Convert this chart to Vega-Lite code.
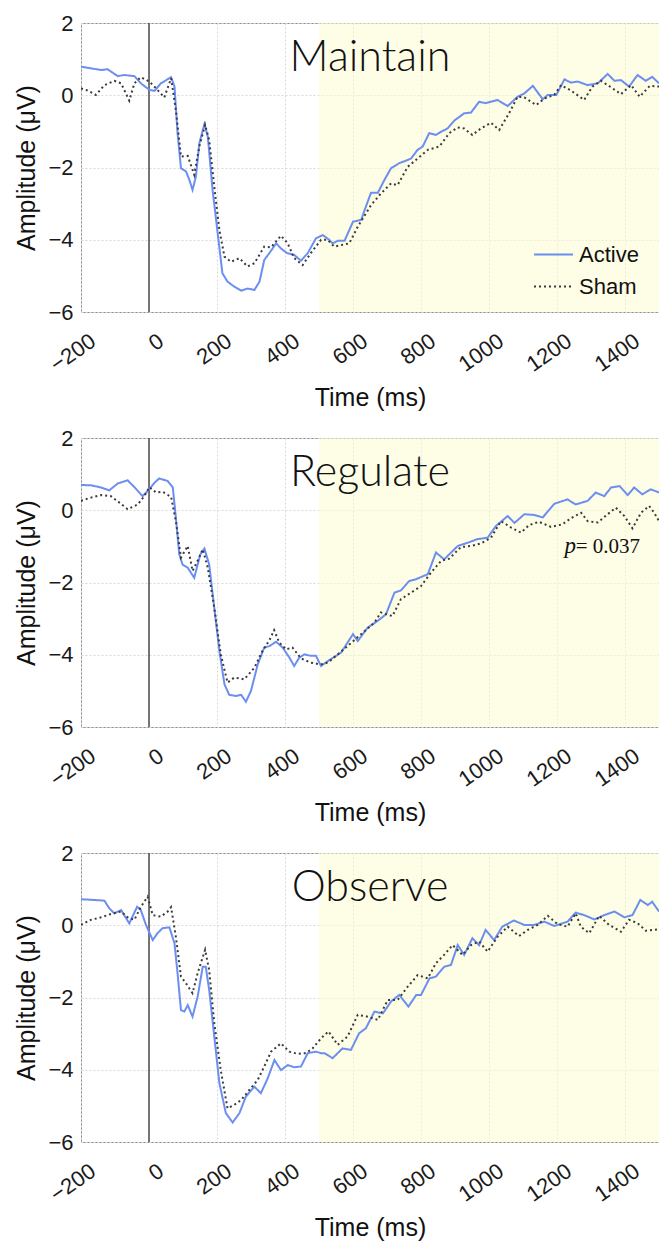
{
"$schema":"https://vega.github.io/schema/vega-lite/v6.json",
"padding":{"left":14,"top":11,"right":0,"bottom":0},
"background":"white",
"datasets":{
"win":[{"t":500,"t2":1500}],
"onset":[{"t":0}],
"names":[{"p":"Maintain"},{"p":"Regulate"},{"p":"Observe"}],
"stat":[{"p":"Regulate","s":"p","eq":"= 0.037"}],
"maintain":[
{"c":"Active","t":-200,"v":0.79},{"c":"Active","t":-161,"v":0.73},{"c":"Active","t":-141,"v":0.70},{"c":"Active","t":-122,"v":0.72},{"c":"Active","t":-92,"v":0.53},{"c":"Active","t":-73,"v":0.56},{"c":"Active","t":-43,"v":0.53},{"c":"Active","t":-24,"v":0.33},{"c":"Active","t":1,"v":0.15},{"c":"Active","t":16,"v":0.12},{"c":"Active","t":35,"v":0.33},{"c":"Active","t":65,"v":0.5},{"c":"Active","t":75,"v":0.24},{"c":"Active","t":84,"v":-1.05},{"c":"Active","t":94,"v":-2.02},{"c":"Active","t":109,"v":-2.11},{"c":"Active","t":119,"v":-2.35},{"c":"Active","t":128,"v":-2.62},{"c":"Active","t":138,"v":-2.25},{"c":"Active","t":148,"v":-1.33},{"c":"Active","t":163,"v":-0.80},{"c":"Active","t":173,"v":-1.15},{"c":"Active","t":187,"v":-2.62},{"c":"Active","t":202,"v":-3.82},{"c":"Active","t":216,"v":-4.93},{"c":"Active","t":231,"v":-5.16},{"c":"Active","t":251,"v":-5.30},{"c":"Active","t":271,"v":-5.41},{"c":"Active","t":290,"v":-5.35},{"c":"Active","t":310,"v":-5.39},{"c":"Active","t":325,"v":-5.16},{"c":"Active","t":339,"v":-4.56},{"c":"Active","t":354,"v":-4.37},{"c":"Active","t":374,"v":-4.10},{"c":"Active","t":388,"v":-4.24},{"c":"Active","t":406,"v":-4.37},{"c":"Active","t":427,"v":-4.42},{"c":"Active","t":447,"v":-4.58},{"c":"Active","t":467,"v":-4.37},{"c":"Active","t":491,"v":-3.96},{"c":"Active","t":511,"v":-3.87},{"c":"Active","t":530,"v":-4.0},{"c":"Active","t":540,"v":-4.10},{"c":"Active","t":555,"v":-4.03},{"c":"Active","t":575,"v":-4.03},{"c":"Active","t":600,"v":-3.50},{"c":"Active","t":624,"v":-3.45},{"c":"Active","t":638,"v":-3.08},{"c":"Active","t":653,"v":-2.70},{"c":"Active","t":673,"v":-2.70},{"c":"Active","t":692,"v":-2.35},{"c":"Active","t":712,"v":-2.02},{"c":"Active","t":736,"v":-1.88},{"c":"Active","t":756,"v":-1.81},{"c":"Active","t":771,"v":-1.75},{"c":"Active","t":790,"v":-1.51},{"c":"Active","t":805,"v":-1.42},{"c":"Active","t":824,"v":-1.05},{"c":"Active","t":844,"v":-1.10},{"c":"Active","t":859,"v":-1.01},{"c":"Active","t":878,"v":-0.92},{"c":"Active","t":898,"v":-0.70},{"c":"Active","t":927,"v":-0.50},{"c":"Active","t":947,"v":-0.48},{"c":"Active","t":971,"v":-0.18},{"c":"Active","t":990,"v":-0.22},{"c":"Active","t":1025,"v":-0.13},{"c":"Active","t":1055,"v":-0.30},{"c":"Active","t":1084,"v":-0.04},{"c":"Active","t":1104,"v":0.05},{"c":"Active","t":1129,"v":0.26},{"c":"Active","t":1158,"v":-0.11},{"c":"Active","t":1173,"v":0.01},{"c":"Active","t":1198,"v":0.01},{"c":"Active","t":1222,"v":0.44},{"c":"Active","t":1241,"v":0.35},{"c":"Active","t":1261,"v":0.38},{"c":"Active","t":1290,"v":0.28},{"c":"Active","t":1320,"v":0.33},{"c":"Active","t":1349,"v":0.59},{"c":"Active","t":1369,"v":0.40},{"c":"Active","t":1388,"v":0.42},{"c":"Active","t":1412,"v":0.24},{"c":"Active","t":1437,"v":0.56},{"c":"Active","t":1461,"v":0.40},{"c":"Active","t":1480,"v":0.51},{"c":"Active","t":1500,"v":0.33},
{"c":"Sham","t":-200,"v":0.19},{"c":"Sham","t":-180,"v":0.13},{"c":"Sham","t":-156,"v":0.01},{"c":"Sham","t":-131,"v":0.28},{"c":"Sham","t":-102,"v":0.40},{"c":"Sham","t":-82,"v":0.33},{"c":"Sham","t":-58,"v":-0.15},{"c":"Sham","t":-43,"v":0.33},{"c":"Sham","t":-24,"v":0.50},{"c":"Sham","t":1,"v":0.38},{"c":"Sham","t":21,"v":0.19},{"c":"Sham","t":45,"v":-0.06},{"c":"Sham","t":65,"v":0.47},{"c":"Sham","t":79,"v":-0.41},{"c":"Sham","t":94,"v":-1.70},{"c":"Sham","t":114,"v":-1.68},{"c":"Sham","t":133,"v":-2.2},{"c":"Sham","t":148,"v":-1.42},{"c":"Sham","t":165,"v":-0.82},{"c":"Sham","t":177,"v":-1.24},{"c":"Sham","t":192,"v":-2.53},{"c":"Sham","t":207,"v":-3.73},{"c":"Sham","t":222,"v":-4.47},{"c":"Sham","t":241,"v":-4.61},{"c":"Sham","t":266,"v":-4.51},{"c":"Sham","t":290,"v":-4.74},{"c":"Sham","t":310,"v":-4.65},{"c":"Sham","t":339,"v":-4.19},{"c":"Sham","t":359,"v":-4.21},{"c":"Sham","t":388,"v":-3.89},{"c":"Sham","t":408,"v":-4.10},{"c":"Sham","t":427,"v":-4.51},{"c":"Sham","t":452,"v":-4.70},{"c":"Sham","t":476,"v":-4.37},{"c":"Sham","t":506,"v":-4.0},{"c":"Sham","t":525,"v":-4.0},{"c":"Sham","t":545,"v":-4.19},{"c":"Sham","t":589,"v":-4.10},{"c":"Sham","t":614,"v":-3.64},{"c":"Sham","t":653,"v":-3.04},{"c":"Sham","t":682,"v":-2.72},{"c":"Sham","t":712,"v":-2.44},{"c":"Sham","t":731,"v":-2.49},{"c":"Sham","t":761,"v":-1.98},{"c":"Sham","t":790,"v":-1.75},{"c":"Sham","t":820,"v":-1.51},{"c":"Sham","t":854,"v":-1.42},{"c":"Sham","t":883,"v":-1.05},{"c":"Sham","t":908,"v":-0.89},{"c":"Sham","t":927,"v":-0.92},{"c":"Sham","t":951,"v":-1.10},{"c":"Sham","t":976,"v":-0.92},{"c":"Sham","t":1006,"v":-0.76},{"c":"Sham","t":1030,"v":-0.96},{"c":"Sham","t":1059,"v":-0.50},{"c":"Sham","t":1084,"v":-0.04},{"c":"Sham","t":1104,"v":-0.06},{"c":"Sham","t":1139,"v":-0.27},{"c":"Sham","t":1163,"v":-0.09},{"c":"Sham","t":1192,"v":0.01},{"c":"Sham","t":1212,"v":0.28},{"c":"Sham","t":1241,"v":0.13},{"c":"Sham","t":1280,"v":-0.13},{"c":"Sham","t":1304,"v":0.24},{"c":"Sham","t":1329,"v":0.40},{"c":"Sham","t":1359,"v":0.22},{"c":"Sham","t":1388,"v":0.03},{"c":"Sham","t":1418,"v":0.28},{"c":"Sham","t":1443,"v":-0.04},{"c":"Sham","t":1473,"v":0.26},{"c":"Sham","t":1500,"v":0.24}
],
"regulate":[
{"c":"Active","t":-200,"v":0.70},{"c":"Active","t":-171,"v":0.69},{"c":"Active","t":-141,"v":0.63},{"c":"Active","t":-117,"v":0.55},{"c":"Active","t":-92,"v":0.74},{"c":"Active","t":-63,"v":0.83},{"c":"Active","t":-43,"v":0.64},{"c":"Active","t":-19,"v":0.39},{"c":"Active","t":1,"v":0.58},{"c":"Active","t":16,"v":0.76},{"c":"Active","t":30,"v":0.88},{"c":"Active","t":55,"v":0.81},{"c":"Active","t":70,"v":0.63},{"c":"Active","t":79,"v":-0.20},{"c":"Active","t":89,"v":-1.22},{"c":"Active","t":99,"v":-1.51},{"c":"Active","t":114,"v":-1.59},{"c":"Active","t":133,"v":-1.87},{"c":"Active","t":151,"v":-1.22},{"c":"Active","t":163,"v":-1.06},{"c":"Active","t":177,"v":-1.50},{"c":"Active","t":192,"v":-2.70},{"c":"Active","t":207,"v":-3.89},{"c":"Active","t":222,"v":-4.82},{"c":"Active","t":236,"v":-5.11},{"c":"Active","t":256,"v":-5.14},{"c":"Active","t":271,"v":-5.11},{"c":"Active","t":285,"v":-5.30},{"c":"Active","t":300,"v":-5.00},{"c":"Active","t":320,"v":-4.26},{"c":"Active","t":339,"v":-3.80},{"c":"Active","t":354,"v":-3.76},{"c":"Active","t":374,"v":-3.64},{"c":"Active","t":393,"v":-3.80},{"c":"Active","t":413,"v":-4.08},{"c":"Active","t":427,"v":-4.31},{"c":"Active","t":442,"v":-4.08},{"c":"Active","t":457,"v":-3.99},{"c":"Active","t":476,"v":-4.03},{"c":"Active","t":491,"v":-4.03},{"c":"Active","t":506,"v":-4.31},{"c":"Active","t":530,"v":-4.15},{"c":"Active","t":565,"v":-3.94},{"c":"Active","t":600,"v":-3.43},{"c":"Active","t":614,"v":-3.62},{"c":"Active","t":643,"v":-3.25},{"c":"Active","t":673,"v":-3.06},{"c":"Active","t":697,"v":-2.88},{"c":"Active","t":722,"v":-2.28},{"c":"Active","t":741,"v":-2.22},{"c":"Active","t":765,"v":-1.96},{"c":"Active","t":785,"v":-1.91},{"c":"Active","t":820,"v":-1.77},{"c":"Active","t":844,"v":-1.17},{"c":"Active","t":868,"v":-1.36},{"c":"Active","t":908,"v":-0.99},{"c":"Active","t":937,"v":-0.90},{"c":"Active","t":966,"v":-0.80},{"c":"Active","t":996,"v":-0.76},{"c":"Active","t":1020,"v":-0.44},{"c":"Active","t":1055,"v":-0.16},{"c":"Active","t":1075,"v":-0.35},{"c":"Active","t":1104,"v":-0.11},{"c":"Active","t":1133,"v":-0.13},{"c":"Active","t":1158,"v":-0.20},{"c":"Active","t":1192,"v":0.18},{"c":"Active","t":1231,"v":0.30},{"c":"Active","t":1255,"v":0.16},{"c":"Active","t":1290,"v":0.26},{"c":"Active","t":1314,"v":0.49},{"c":"Active","t":1339,"v":0.39},{"c":"Active","t":1359,"v":0.63},{"c":"Active","t":1384,"v":0.67},{"c":"Active","t":1408,"v":0.42},{"c":"Active","t":1427,"v":0.63},{"c":"Active","t":1451,"v":0.44},{"c":"Active","t":1476,"v":0.58},{"c":"Active","t":1500,"v":0.49},
{"c":"Sham","t":-200,"v":0.26},{"c":"Sham","t":-171,"v":0.35},{"c":"Sham","t":-141,"v":0.42},{"c":"Sham","t":-112,"v":0.39},{"c":"Sham","t":-87,"v":0.21},{"c":"Sham","t":-63,"v":0.03},{"c":"Sham","t":-33,"v":0.16},{"c":"Sham","t":-14,"v":0.39},{"c":"Sham","t":1,"v":0.64},{"c":"Sham","t":21,"v":0.49},{"c":"Sham","t":40,"v":0.51},{"c":"Sham","t":65,"v":0.37},{"c":"Sham","t":79,"v":-0.30},{"c":"Sham","t":94,"v":-1.31},{"c":"Sham","t":114,"v":-0.99},{"c":"Sham","t":128,"v":-1.68},{"c":"Sham","t":143,"v":-1.40},{"c":"Sham","t":158,"v":-1.08},{"c":"Sham","t":173,"v":-1.59},{"c":"Sham","t":192,"v":-2.70},{"c":"Sham","t":211,"v":-3.99},{"c":"Sham","t":231,"v":-4.77},{"c":"Sham","t":251,"v":-4.63},{"c":"Sham","t":280,"v":-4.68},{"c":"Sham","t":310,"v":-4.36},{"c":"Sham","t":334,"v":-3.89},{"c":"Sham","t":354,"v":-3.60},{"c":"Sham","t":368,"v":-3.32},{"c":"Sham","t":383,"v":-3.66},{"c":"Sham","t":403,"v":-3.85},{"c":"Sham","t":422,"v":-3.80},{"c":"Sham","t":447,"v":-4.10},{"c":"Sham","t":476,"v":-4.22},{"c":"Sham","t":501,"v":-4.26},{"c":"Sham","t":515,"v":-4.26},{"c":"Sham","t":530,"v":-4.19},{"c":"Sham","t":550,"v":-4.03},{"c":"Sham","t":590,"v":-3.71},{"c":"Sham","t":624,"v":-3.43},{"c":"Sham","t":663,"v":-3.11},{"c":"Sham","t":682,"v":-2.83},{"c":"Sham","t":716,"v":-2.93},{"c":"Sham","t":741,"v":-2.46},{"c":"Sham","t":771,"v":-2.28},{"c":"Sham","t":800,"v":-2.10},{"c":"Sham","t":829,"v":-1.73},{"c":"Sham","t":859,"v":-1.40},{"c":"Sham","t":883,"v":-1.34},{"c":"Sham","t":917,"v":-1.02},{"c":"Sham","t":947,"v":-0.99},{"c":"Sham","t":976,"v":-0.92},{"c":"Sham","t":1006,"v":-0.76},{"c":"Sham","t":1035,"v":-0.30},{"c":"Sham","t":1065,"v":-0.48},{"c":"Sham","t":1094,"v":-0.62},{"c":"Sham","t":1118,"v":-0.41},{"c":"Sham","t":1147,"v":-0.32},{"c":"Sham","t":1182,"v":-0.46},{"c":"Sham","t":1216,"v":-0.39},{"c":"Sham","t":1241,"v":-0.22},{"c":"Sham","t":1271,"v":-0.07},{"c":"Sham","t":1290,"v":-0.30},{"c":"Sham","t":1320,"v":-0.34},{"c":"Sham","t":1349,"v":-0.11},{"c":"Sham","t":1373,"v":0.07},{"c":"Sham","t":1398,"v":-0.16},{"c":"Sham","t":1422,"v":-0.50},{"c":"Sham","t":1447,"v":-0.07},{"c":"Sham","t":1471,"v":0.12},{"c":"Sham","t":1486,"v":-0.07},{"c":"Sham","t":1500,"v":-0.30}
],
"observe":[
{"c":"Active","t":-200,"v":0.72},{"c":"Active","t":-161,"v":0.70},{"c":"Active","t":-131,"v":0.68},{"c":"Active","t":-117,"v":0.47},{"c":"Active","t":-102,"v":0.33},{"c":"Active","t":-82,"v":0.42},{"c":"Active","t":-58,"v":0.05},{"c":"Active","t":-35,"v":0.51},{"c":"Active","t":-24,"v":0.42},{"c":"Active","t":-9,"v":0.01},{"c":"Active","t":11,"v":-0.41},{"c":"Active","t":25,"v":-0.22},{"c":"Active","t":40,"v":-0.08},{"c":"Active","t":60,"v":-0.06},{"c":"Active","t":75,"v":-0.50},{"c":"Active","t":84,"v":-1.33},{"c":"Active","t":94,"v":-2.35},{"c":"Active","t":104,"v":-2.39},{"c":"Active","t":114,"v":-2.21},{"c":"Active","t":128,"v":-2.53},{"c":"Active","t":143,"v":-1.98},{"c":"Active","t":158,"v":-1.15},{"c":"Active","t":167,"v":-1.15},{"c":"Active","t":177,"v":-1.79},{"c":"Active","t":192,"v":-3.08},{"c":"Active","t":207,"v":-4.37},{"c":"Active","t":226,"v":-5.20},{"c":"Active","t":246,"v":-5.46},{"c":"Active","t":266,"v":-5.20},{"c":"Active","t":285,"v":-4.74},{"c":"Active","t":310,"v":-4.47},{"c":"Active","t":329,"v":-4.65},{"c":"Active","t":349,"v":-4.24},{"c":"Active","t":369,"v":-3.73},{"c":"Active","t":388,"v":-4.01},{"c":"Active","t":408,"v":-3.87},{"c":"Active","t":427,"v":-3.93},{"c":"Active","t":447,"v":-3.91},{"c":"Active","t":467,"v":-3.54},{"c":"Active","t":491,"v":-3.50},{"c":"Active","t":506,"v":-3.54},{"c":"Active","t":516,"v":-3.54},{"c":"Active","t":540,"v":-3.68},{"c":"Active","t":569,"v":-3.41},{"c":"Active","t":594,"v":-3.45},{"c":"Active","t":618,"v":-2.99},{"c":"Active","t":638,"v":-2.85},{"c":"Active","t":663,"v":-2.39},{"c":"Active","t":688,"v":-2.44},{"c":"Active","t":712,"v":-2.11},{"c":"Active","t":736,"v":-1.93},{"c":"Active","t":763,"v":-2.25},{"c":"Active","t":786,"v":-1.93},{"c":"Active","t":800,"v":-1.93},{"c":"Active","t":825,"v":-1.47},{"c":"Active","t":844,"v":-1.42},{"c":"Active","t":868,"v":-1.15},{"c":"Active","t":888,"v":-1.10},{"c":"Active","t":908,"v":-0.55},{"c":"Active","t":927,"v":-0.82},{"c":"Active","t":951,"v":-0.36},{"c":"Active","t":971,"v":-0.55},{"c":"Active","t":990,"v":-0.13},{"c":"Active","t":1015,"v":-0.41},{"c":"Active","t":1039,"v":-0.04},{"c":"Active","t":1073,"v":0.13},{"c":"Active","t":1104,"v":0.01},{"c":"Active","t":1133,"v":0.01},{"c":"Active","t":1163,"v":0.10},{"c":"Active","t":1192,"v":-0.02},{"c":"Active","t":1231,"v":0.10},{"c":"Active","t":1255,"v":0.35},{"c":"Active","t":1280,"v":0.28},{"c":"Active","t":1310,"v":0.16},{"c":"Active","t":1339,"v":0.28},{"c":"Active","t":1369,"v":0.38},{"c":"Active","t":1398,"v":0.22},{"c":"Active","t":1422,"v":0.28},{"c":"Active","t":1445,"v":0.70},{"c":"Active","t":1467,"v":0.56},{"c":"Active","t":1480,"v":0.65},{"c":"Active","t":1500,"v":0.38},
{"c":"Sham","t":-200,"v":0.01},{"c":"Sham","t":-171,"v":0.15},{"c":"Sham","t":-141,"v":0.22},{"c":"Sham","t":-112,"v":0.31},{"c":"Sham","t":-82,"v":0.38},{"c":"Sham","t":-63,"v":0.22},{"c":"Sham","t":-43,"v":0.15},{"c":"Sham","t":-24,"v":0.51},{"c":"Sham","t":-4,"v":0.79},{"c":"Sham","t":11,"v":0.28},{"c":"Sham","t":35,"v":0.24},{"c":"Sham","t":55,"v":0.38},{"c":"Sham","t":65,"v":0.50},{"c":"Sham","t":79,"v":-0.32},{"c":"Sham","t":94,"v":-1.42},{"c":"Sham","t":109,"v":-1.61},{"c":"Sham","t":128,"v":-1.88},{"c":"Sham","t":143,"v":-1.33},{"c":"Sham","t":165,"v":-0.68},{"c":"Sham","t":177,"v":-1.24},{"c":"Sham","t":192,"v":-2.71},{"c":"Sham","t":211,"v":-4.01},{"c":"Sham","t":231,"v":-5.07},{"c":"Sham","t":251,"v":-4.97},{"c":"Sham","t":271,"v":-4.84},{"c":"Sham","t":295,"v":-4.56},{"c":"Sham","t":320,"v":-4.28},{"c":"Sham","t":339,"v":-3.91},{"c":"Sham","t":359,"v":-3.50},{"c":"Sham","t":388,"v":-3.27},{"c":"Sham","t":413,"v":-3.50},{"c":"Sham","t":437,"v":-3.56},{"c":"Sham","t":462,"v":-3.54},{"c":"Sham","t":481,"v":-3.41},{"c":"Sham","t":506,"v":-3.13},{"c":"Sham","t":528,"v":-2.94},{"c":"Sham","t":555,"v":-3.31},{"c":"Sham","t":584,"v":-3.08},{"c":"Sham","t":614,"v":-2.48},{"c":"Sham","t":643,"v":-2.53},{"c":"Sham","t":673,"v":-2.62},{"c":"Sham","t":702,"v":-2.07},{"c":"Sham","t":731,"v":-2.07},{"c":"Sham","t":761,"v":-1.70},{"c":"Sham","t":790,"v":-1.38},{"c":"Sham","t":820,"v":-1.47},{"c":"Sham","t":844,"v":-1.05},{"c":"Sham","t":868,"v":-0.82},{"c":"Sham","t":893,"v":-0.55},{"c":"Sham","t":922,"v":-0.82},{"c":"Sham","t":947,"v":-0.55},{"c":"Sham","t":971,"v":-0.45},{"c":"Sham","t":996,"v":-0.73},{"c":"Sham","t":1025,"v":-0.32},{"c":"Sham","t":1055,"v":-0.04},{"c":"Sham","t":1088,"v":-0.30},{"c":"Sham","t":1114,"v":-0.13},{"c":"Sham","t":1143,"v":0.01},{"c":"Sham","t":1173,"v":0.26},{"c":"Sham","t":1202,"v":0.03},{"c":"Sham","t":1231,"v":-0.04},{"c":"Sham","t":1255,"v":0.33},{"c":"Sham","t":1270,"v":-0.04},{"c":"Sham","t":1295,"v":-0.22},{"c":"Sham","t":1324,"v":0.26},{"c":"Sham","t":1353,"v":0.01},{"c":"Sham","t":1388,"v":-0.18},{"c":"Sham","t":1412,"v":0.15},{"c":"Sham","t":1437,"v":0.06},{"c":"Sham","t":1461,"v":-0.15},{"c":"Sham","t":1500,"v":-0.11}
]
},
"bounds":"flush",
"spacing":126,
"resolve":{"scale":{"color":"independent","strokeDash":"independent"},"legend":{"color":"independent","strokeDash":"independent"}},
"vconcat":[
{"width":578,"height":289,
 "layer":[
  {"data":{"name":"win"},"mark":{"type":"rect","fill":"#fdfbd1","opacity":0.55},"encoding":{"x":{"field":"t","type":"quantitative","scale":{"domain":[-200,1500],"nice":false,"zero":false},"axis":{"title":"Time (ms)","values":[-200,0,200,400,600,800,1000,1200,1400],"format":"d","grid":true}},"x2":{"field":"t2"}}},
  {"data":{"name":"onset"},"mark":{"type":"rule","color":"#4a4a4a","strokeWidth":1.5},"encoding":{"x":{"field":"t","type":"quantitative"}}},
  {"data":{"name":"maintain"},"mark":{"type":"line","strokeWidth":2,"clip":true},
   "encoding":{"x":{"field":"t","type":"quantitative"},"y":{"field":"v","type":"quantitative","scale":{"domain":[-6,2],"nice":false,"zero":false},"axis":{"title":"Amplitude (μV)","values":[-6,-4,-2,0,2],"grid":true}},
   "color":{"field":"c","type":"nominal","scale":{"domain":["Active","Sham"],"range":["#6b8ef0","#3a3a3a"]},"legend":{"title":null}},
   "strokeDash":{"field":"c","type":"nominal","scale":{"domain":["Active","Sham"],"range":[[1,0],[2,3]]},"legend":{"title":null}}}},
  {"data":{"name":"names"},"transform":[{"filter":"datum.p == 'Maintain'"}],"mark":{"type":"text","font":"Lato","fontWeight":300,"fontSize":43,"align":"center","baseline":"alphabetic","fill":"#111111"},"encoding":{"x":{"datum":650,"type":"quantitative"},"y":{"datum":0.68,"type":"quantitative"},"text":{"field":"p","type":"nominal"}}}
 ]},
{"width":578,"height":289,
 "layer":[
  {"data":{"name":"win"},"mark":{"type":"rect","fill":"#fdfbd1","opacity":0.55},"encoding":{"x":{"field":"t","type":"quantitative","scale":{"domain":[-200,1500],"nice":false,"zero":false},"axis":{"title":"Time (ms)","values":[-200,0,200,400,600,800,1000,1200,1400],"format":"d","grid":true}},"x2":{"field":"t2"}}},
  {"data":{"name":"onset"},"mark":{"type":"rule","color":"#4a4a4a","strokeWidth":1.5},"encoding":{"x":{"field":"t","type":"quantitative"}}},
  {"data":{"name":"regulate"},"mark":{"type":"line","strokeWidth":2,"clip":true},
   "encoding":{"x":{"field":"t","type":"quantitative"},"y":{"field":"v","type":"quantitative","scale":{"domain":[-6,2],"nice":false,"zero":false},"axis":{"title":"Amplitude (μV)","values":[-6,-4,-2,0,2],"grid":true}},
   "color":{"field":"c","type":"nominal","scale":{"domain":["Active","Sham"],"range":["#6b8ef0","#3a3a3a"]},"legend":null},
   "strokeDash":{"field":"c","type":"nominal","scale":{"domain":["Active","Sham"],"range":[[1,0],[2,3]]},"legend":null}}},
  {"data":{"name":"names"},"transform":[{"filter":"datum.p == 'Regulate'"}],"mark":{"type":"text","font":"Lato","fontWeight":300,"fontSize":43,"align":"center","baseline":"alphabetic","fill":"#111111"},"encoding":{"x":{"datum":650,"type":"quantitative"},"y":{"datum":0.68,"type":"quantitative"},"text":{"field":"p","type":"nominal"}}},
  {"data":{"name":"stat"},"mark":{"type":"text","font":"Liberation Serif","fontStyle":"italic","fontSize":23,"align":"left","baseline":"alphabetic","fill":"#111111"},"encoding":{"x":{"datum":1222,"type":"quantitative"},"y":{"datum":-1.19,"type":"quantitative"},"text":{"field":"s","type":"nominal"}}},
  {"data":{"name":"stat"},"mark":{"type":"text","font":"Liberation Serif","fontSize":21,"align":"left","baseline":"alphabetic","fill":"#111111"},"encoding":{"x":{"datum":1255,"type":"quantitative"},"y":{"datum":-1.19,"type":"quantitative"},"text":{"field":"eq","type":"nominal"}}}
 ]},
{"width":578,"height":289,
 "layer":[
  {"data":{"name":"win"},"mark":{"type":"rect","fill":"#fdfbd1","opacity":0.55},"encoding":{"x":{"field":"t","type":"quantitative","scale":{"domain":[-200,1500],"nice":false,"zero":false},"axis":{"title":"Time (ms)","values":[-200,0,200,400,600,800,1000,1200,1400],"format":"d","grid":true}},"x2":{"field":"t2"}}},
  {"data":{"name":"onset"},"mark":{"type":"rule","color":"#4a4a4a","strokeWidth":1.5},"encoding":{"x":{"field":"t","type":"quantitative"}}},
  {"data":{"name":"observe"},"mark":{"type":"line","strokeWidth":2,"clip":true},
   "encoding":{"x":{"field":"t","type":"quantitative"},"y":{"field":"v","type":"quantitative","scale":{"domain":[-6,2],"nice":false,"zero":false},"axis":{"title":"Amplitude (μV)","values":[-6,-4,-2,0,2],"grid":true}},
   "color":{"field":"c","type":"nominal","scale":{"domain":["Active","Sham"],"range":["#6b8ef0","#3a3a3a"]},"legend":null},
   "strokeDash":{"field":"c","type":"nominal","scale":{"domain":["Active","Sham"],"range":[[1,0],[2,3]]},"legend":null}}},
  {"data":{"name":"names"},"transform":[{"filter":"datum.p == 'Observe'"}],"mark":{"type":"text","font":"Lato","fontWeight":300,"fontSize":43,"align":"center","baseline":"alphabetic","fill":"#111111"},"encoding":{"x":{"datum":650,"type":"quantitative"},"y":{"datum":0.68,"type":"quantitative"},"text":{"field":"p","type":"nominal"}}}
 ]}
],
"config":{
 "font":"Liberation Sans",
 "view":{"stroke":"#8f8f8f","strokeWidth":1},
 "axis":{"labelFont":"Liberation Sans","labelFontSize":22,"labelColor":"#1a1a1a","titleFont":"Liberation Sans","titleFontSize":25,"titleFontWeight":"normal","titleColor":"#111111","gridColor":"#d9d9d9","gridDash":[2,2],"domain":false,"ticks":false},
 "axisX":{"labelAngle":-35,"labelPadding":18,"labelOffset":6,"titlePadding":10},
 "axisY":{"labelPadding":8,"titlePadding":8},
 "legend":{"orient":"none","legendX":452,"legendY":211,"symbolType":"stroke","symbolSize":1521,"symbolStrokeWidth":2,"labelFont":"Liberation Sans","labelFontSize":22,"labelColor":"#111111","rowPadding":-12,"labelOffset":5,"padding":0}
}
}
